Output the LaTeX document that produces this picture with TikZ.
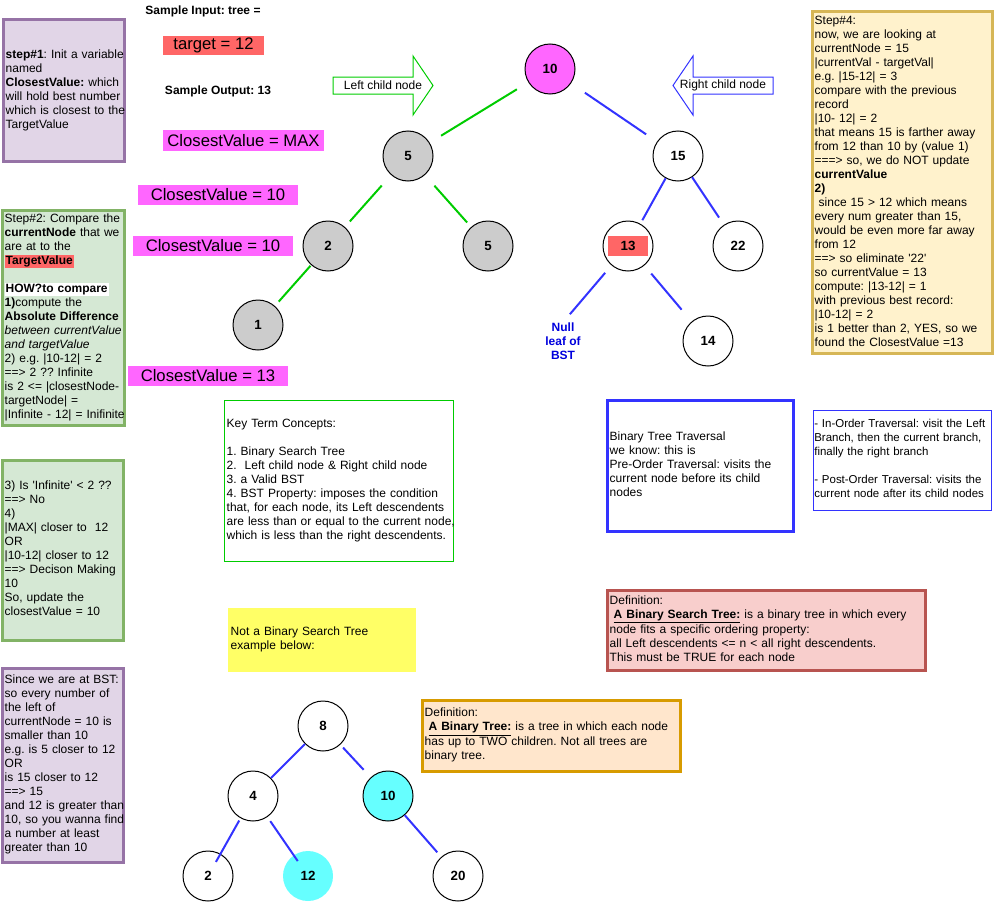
\documentclass[tikz,border=0pt]{standalone}
\usepackage{fontspec}
\setmainfont{Liberation Sans}
\frenchspacing
\setlength{\fboxsep}{0.75pt}
\def\boxlines#1{\begin{tabular}{@{}l@{}}#1\end{tabular}}
\definecolor{notepurple}{HTML}{9673A6}
\definecolor{notepurplefill}{HTML}{E1D5E7}
\definecolor{notegreen}{HTML}{82B366}
\definecolor{notegreenfill}{HTML}{D5E8D4}
\definecolor{noteyellow}{HTML}{D6B656}
\definecolor{noteyellowfill}{HTML}{FFF2CC}
\definecolor{notered}{HTML}{B85450}
\definecolor{noteredfill}{HTML}{F8CECC}
\definecolor{noteorange}{HTML}{D79B00}
\definecolor{noteorangefill}{HTML}{FFE6CC}
\definecolor{hlred}{HTML}{FF6666}
\definecolor{hlpink}{HTML}{FF66FF}
\definecolor{hlcyan}{HTML}{66FFFF}
\definecolor{hlyellow}{HTML}{FFFF66}
\definecolor{visitgray}{HTML}{CCCCCC}
\definecolor{edgegreen}{HTML}{00CC00}
\definecolor{edgeblue}{HTML}{3333FF}
\definecolor{nullblue}{HTML}{0000DD}
\tikzset{
  notebox/.style={draw, anchor=north west, align=left, inner sep=2pt, outer sep=0pt, font=\fontsize{9pt}{10.5pt}\selectfont},
  heavybox/.style={notebox, line width=2.25pt},
  valbox/.style={anchor=north west, inner sep=0pt, outer sep=0pt, minimum width=120pt, minimum height=15pt, font=\fontsize{12.5pt}{14pt}\selectfont},
  plaintext/.style={inner sep=0pt, font=\fontsize{9pt}{10.5pt}\selectfont},
  boldtext/.style={inner sep=0pt, font=\fontsize{9pt}{10.5pt}\selectfont\bfseries},
  treenode/.style={circle, draw, line width=0.75pt, fill=white, minimum size=37.5pt, inner sep=0pt, font=\fontsize{10pt}{12pt}\selectfont\bfseries},
  visited/.style={treenode, fill=visitgray},
  greenedge/.style={line width=1.5pt, draw=edgegreen},
  blueedge/.style={line width=1.5pt, draw=edgeblue},
  childarrow/.style={line width=0.75pt}
}
\begin{document}
\begin{tikzpicture}[x=0.75pt,y=0.75pt,yscale=-1]
		\useasboundingbox (0,0) rectangle (994,917);
		\node[heavybox, draw=notepurple, fill=notepurplefill, text width=86.75pt, minimum height=105.75pt] (step1) at (3,20) {\boxlines{\textbf{step\#1}: Init a variable\\named\\\textbf{ClosestValue:} which\\will hold best number\\which is closest to the\\TargetValue}};
		\node[heavybox, draw=notegreen, fill=notegreenfill, text width=87.5pt, minimum height=159.75pt] (step2) at (2,210) {\boxlines{Step\#2: Compare the\\\textbf{currentNode} that we\\are at to the\\\colorbox{hlred}{\textbf{TargetValue}}\\ \\\colorbox{white}{\textbf{HOW?to compare}}\\\textbf{1)}compute the\\\textbf{Absolute Difference}\\\textit{between currentValue}\\\textit{and targetValue}\\2) e.g. |10-12| = 2\\==> 2 ?? Infinite\\is 2 <= |closestNode-\\targetNode| =\\|Infinite - 12| = Inifinite}};
		\node[heavybox, draw=notegreen, fill=notegreenfill, text width=86.75pt, minimum height=135pt] (step3) at (2,460) {\boxlines{3) Is \textquotesingle Infinite\textquotesingle{} < 2 ??\\==> No\\4)\\|MAX| closer to~ 12\\OR\\|10-12| closer to 12\\==> Decison Making\\10\\So, update the\\closestValue = 10}};
		\node[heavybox, draw=notepurple, fill=notepurplefill, text width=86.75pt, minimum height=145.5pt] (sincebst) at (2,668) {\boxlines{Since we are at BST:\\so every number of\\the left of\\currentNode = 10 is\\smaller than 10\\e.g. is 5 closer to 12\\OR\\is 15 closer to 12\\==> 15\\and 12 is greater than\\10, so you wanna find\\a number at least\\greater than 10}};
		\node[heavybox, draw=noteyellow, fill=noteyellowfill, text width=131pt, minimum height=255pt] (step4) at (812,12) {\boxlines{Step\#4:\\now, we are looking at\\currentNode = 15\\|currentVal - targetVal|\\e.g. |15-12| = 3\\compare with the previous\\record\\|10- 12| = 2\\that means 15 is farther away\\from 12 than 10 by (value 1)\\===> so, we do NOT update\\\textbf{currentValue}\\\textbf{2)}\\\ since 15 > 12 which means\\every num greater than 15,\\would be even more far away\\from 12\\==> so eliminate \textquotesingle 22\textquotesingle\\so currentValue = 13\\compute: |13-12| = 1\\with previous best record:\\|10-12| = 2\\is 1 better than 2, YES, so we\\found the ClosestValue =13}};
		\node[notebox, draw=edgegreen, line width=0.75pt, text width=167.75pt, minimum height=120.75pt] (keyterms) at (224,400) {\boxlines{Key Term Concepts:\\ \\1. Binary Search Tree\\2.~ Left child node \& Right child node\\3. a Valid BST\\4. BST Property: imposes the condition\\that, for each node, its Left descendents\\are less than or equal to the current node,\\which is less than the right descendents.}};
		\node[heavybox, draw=edgeblue, text width=135.5pt, minimum height=98.25pt] (preorder) at (607,400) {\boxlines{Binary Tree Traversal\\we know: this is\\Pre-Order Traversal: visits the\\current node before its child\\nodes}};
		\node[notebox, draw=edgeblue, line width=0.75pt, inner sep=1pt, text width=131.5pt, minimum height=75pt, font=\fontsize{8.6pt}{10.5pt}\selectfont] (inorder) at (813,410) {\boxlines{- In-Order Traversal: visit the Left\\Branch, then the current branch,\\finally the right branch\\ \\- Post-Order Traversal: visits the\\current node after its child nodes}};
		\node[heavybox, draw=notered, fill=noteredfill, text width=234.5pt, minimum height=60pt] (defbst) at (607,590) {\boxlines{Definition:\\~\underline{\textbf{A Binary Search Tree:}} is a binary tree in which every\\node fits a specific ordering property:\\all Left descendents <= n < all right descendents.\\This must be TRUE for each node}};
		\node[heavybox, draw=noteorange, fill=noteorangefill, text width=189.5pt, minimum height=53.25pt] (defbt) at (422,700) {\boxlines{Definition:\\~\underline{\textbf{A Binary Tree:}} is a tree in which each node\\has up to TWO children. Not all trees are\\binary tree.}};
		\node[notebox, draw=none, fill=hlyellow, text width=137pt, minimum height=48pt] (notbst) at (228,608) {\boxlines{Not a Binary Search Tree\\example below:}};
		\node[boldtext] (sampin) at (203,11) {Sample Input: tree =};
		\node[boldtext] (sampout) at (218,91) {Sample Output: 13};
		\node[valbox, fill=hlred, minimum width=75.75pt, minimum height=14.25pt] (target) at (163,36) {target = 12};
		\node[valbox, fill=hlpink, minimum width=120.75pt, minimum height=15.75pt] (cvmax) at (163,130) {ClosestValue = MAX};
		\node[valbox, fill=hlpink] (cvten) at (138,185) {ClosestValue = 10};
		\node[valbox, fill=hlpink] (cvtenb) at (133,236) {ClosestValue = 10};
		\node[valbox, fill=hlpink] (cvthirteen) at (128,366) {ClosestValue = 13};
		\draw[childarrow, draw=edgegreen] (333,77) -- (413,77) -- (413,56) -- (433,85.5) -- (413,115) -- (413,94) -- (333,94) -- cycle;
		\node[plaintext] (leftlbl) at (383,85.5) {Left child node};
		\draw[childarrow, draw=edgeblue] (773,77) -- (693,77) -- (693,56) -- (673,85.5) -- (693,115) -- (693,94) -- (773,94) -- cycle;
		\node[plaintext] (rightlbl) at (723,85.5) {Right child node};
		\node[treenode, fill=hlpink] (n10) at (550,69) {10};
		\node[visited] (n5) at (408,156) {5};
		\node[treenode] (n15) at (678,156) {15};
		\node[visited] (n2) at (328,246) {2};
		\node[visited] (n5b) at (488,246) {5};
		\node[treenode] (n13) at (628,246) {};
		\node[fill=hlred, minimum width=30pt, minimum height=15pt, inner sep=0pt, font=\fontsize{10pt}{12pt}\selectfont\bfseries] (t13) at (n13) {13};
		\node[treenode] (n22) at (738,246) {22};
		\node[visited] (n1) at (258,325) {1};
		\node[treenode] (n14) at (708,341) {14};
		\node[boldtext, align=center, text=nullblue] (null) at (563,341) {Null\\leaf of\\BST};
		\draw[greenedge, shorten <=10pt, shorten >=10pt] (n10) -- (n5);
		\draw[greenedge, shorten <=10.5pt, shorten >=5.5pt] (n5) -- (n2);
		\draw[greenedge, shorten <=10.7pt, shorten >=4.5pt] (n5) -- (n5b);
		\draw[greenedge, shorten <=0.7pt, shorten >=4.3pt] (n2) -- (n1);
		\draw[blueedge, shorten <=12.5pt, shorten >=9.75pt] (n10) -- (n15);
		\draw[blueedge, shorten >=3pt] (n15) -- (n13);
		\draw[blueedge, shorten >=6.5pt] (n15) -- (n22);
		\draw[blueedge, shorten <=7.3pt, shorten >=8pt] (n13) -- (null.north);
		\draw[blueedge, shorten <=7.9pt, shorten >=11.6pt] (n13) -- (n14);
		\node[treenode] (b8) at (323,726) {8};
		\node[treenode] (b4) at (253,796) {4};
		\node[treenode, fill=hlcyan] (b10) at (388,796) {10};
		\node[treenode] (b2) at (208,876) {2};
		\node[treenode, draw=none, fill=hlcyan] (b12) at (308,876) {12};
		\node[treenode] (b20) at (458,876) {20};
		\draw[blueedge] (b8) -- (b4);
		\draw[blueedge, shorten <=3pt, shorten >=7.7pt] (b8) -- (b10);
		\draw[blueedge, shorten <=2pt, shorten >=-7pt] (b4) -- (b2);
		\draw[blueedge, shorten <=3.75pt, shorten >=-5.5pt] (b4) -- (b12);
		\draw[blueedge, shorten >=4.5pt] (b10) -- (b20);
\end{tikzpicture}
\end{document}
